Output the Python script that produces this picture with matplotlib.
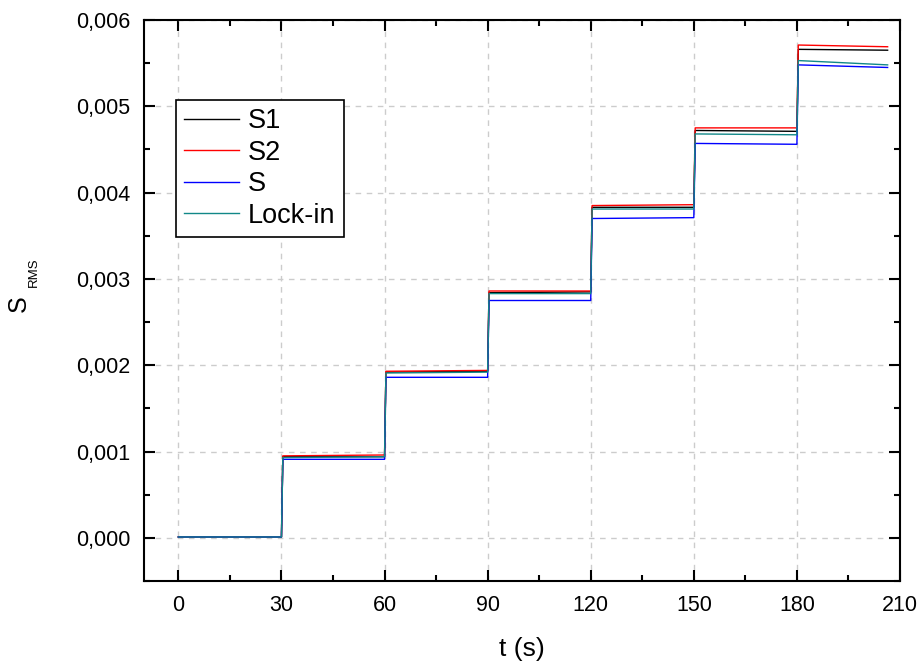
import numpy as np
import matplotlib
matplotlib.use('Agg')
import matplotlib.pyplot as plt
from matplotlib.ticker import MultipleLocator, FuncFormatter

plt.rcParams['font.family'] = ['Liberation Sans', 'DejaVu Sans']

# step times (s) and end of record
t_step = [0, 30, 60, 90, 120, 150, 180]
t_last = 206.4

# level at start / end of each step for every signal
s1_start = [0.00001, 0.00094, 0.00192, 0.00284, 0.00383, 0.00472, 0.00566]
s1_end = [0.00001, 0.00094, 0.00193, 0.00285, 0.00383, 0.00471, 0.00565]
s2_start = [0.00001, 0.00095, 0.00193, 0.00286, 0.00385, 0.00475, 0.00571]
s2_end = [0.00001, 0.00096, 0.00194, 0.00286, 0.00386, 0.00475, 0.00569]
s_start = [0.00001, 0.00091, 0.00186, 0.00275, 0.00370, 0.00457, 0.00548]
s_end = [0.00001, 0.00091, 0.00186, 0.00275, 0.00371, 0.00456, 0.00545]
li_start = [0.00001, 0.00093, 0.00191, 0.00283, 0.00381, 0.00468, 0.00553]
li_end = [0.00001, 0.00094, 0.00192, 0.00283, 0.00381, 0.00467, 0.00548]

labels = ['S1', 'S2', 'S', 'Lock-in']
colors = ['black', 'red', 'blue', '#118888']


def build(start, end, rise=0.4):
    t, y = [], []
    ends = t_step[1:] + [t_last]
    for i in range(len(t_step)):
        t0 = t_step[i] + (rise if i > 0 else 0)
        t += [t0, ends[i]]
        y += [start[i], end[i]]
    return t, y


fig = plt.figure(figsize=(9.2, 6.61), dpi=100)
ax = fig.add_axes([144/920, 1-581/661, (900-144)/920, (581-20)/661])

series = [(s1_start, s1_end), (s2_start, s2_end), (s_start, s_end), (li_start, li_end)]
for (a, b), lab, c in zip(series, labels, colors):
    t, y = build(a, b)
    ax.plot(t, y, color=c, lw=1.0, label=lab)

ax.set_xlim(-10, 210)
ax.set_ylim(-0.0005, 0.006)
ax.xaxis.set_major_locator(MultipleLocator(30))
ax.xaxis.set_minor_locator(MultipleLocator(15))
ax.yaxis.set_major_locator(MultipleLocator(0.001))
ax.yaxis.set_minor_locator(MultipleLocator(0.0005))
ax.yaxis.set_major_formatter(FuncFormatter(lambda v, p: ('%.3f' % v).replace('.', ',').replace('-0,000', '0,000')))

ax.tick_params(which='both', direction='in', top=True, right=True, labelsize=15.5, width=1.5)
ax.tick_params(which='major', length=8, pad=10)
ax.tick_params(which='minor', length=4)
for sp in ax.spines.values():
    sp.set_linewidth(1.5)

ax.grid(True, which='major', color='#cccccc', ls=(0, (4, 4)), lw=1.0)

ax.set_xlabel('t (s)', fontsize=19, labelpad=15)
fig.text(19, 661-304, 'S', fontsize=18, rotation=90, ha='center', va='center', transform=None)
fig.text(33.5, 661-272, 'RMS', fontsize=9.5, rotation=90, ha='center', va='center', transform=None)

leg = ax.legend(loc='upper left', bbox_to_anchor=(32/756, 481/561), borderaxespad=0,
                fontsize=19.5, frameon=True, fancybox=False, framealpha=1,
                edgecolor='black', handlelength=2.0, handletextpad=0.35,
                labelspacing=0.2, borderpad=0.31)
leg.get_frame().set_linewidth(1.2)

fig.savefig('out.png', dpi=100)
